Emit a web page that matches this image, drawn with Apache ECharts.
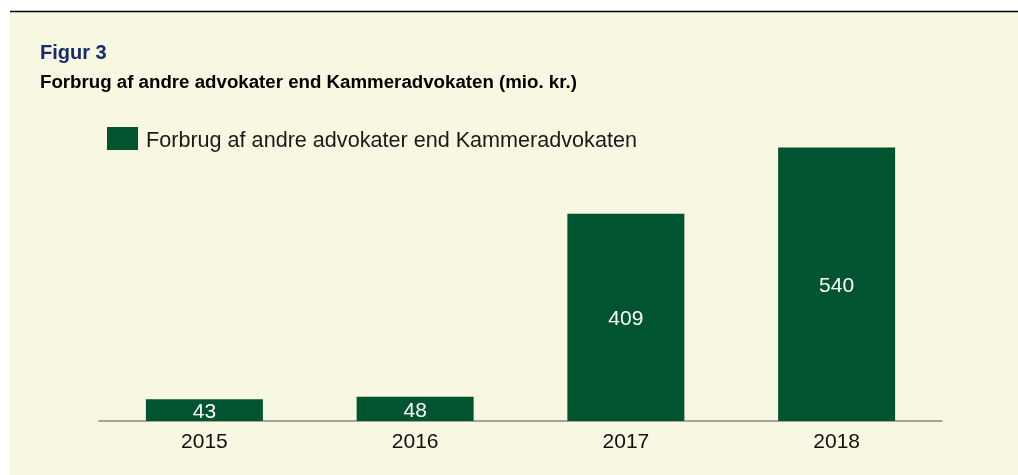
<!DOCTYPE html>
<html>
<head>
<meta charset="utf-8">
<script src="https://cdn.jsdelivr.net/npm/echarts@6/dist/echarts.min.js"></script>
<style>
html,body{margin:0;padding:0;background:#ffffff;}
#c{width:1018px;height:475px;}
</style>
</head>
<body>
<div id="c"></div>
<script>
const categories = ['2015', '2016', '2017', '2018'];
const values = [43, 48, 409, 540];
const seriesName = 'Forbrug af andre advokater end Kammeradvokaten';
const figTitle = 'Figur 3';
const subTitle = 'Forbrug af andre advokater end Kammeradvokaten (mio. kr.)';

const chart = echarts.init(document.getElementById('c'), null, {renderer: 'canvas'});
chart.setOption({
  backgroundColor: '#ffffff',
  animation: false,
  graphic: [
    {type: 'rect', z: -10, shape: {x: 10, y: 12, width: 1008, height: 463}, style: {fill: '#F8F7E1'}},
    {type: 'line', z: -9, shape: {x1: 10, y1: 11.5, x2: 1018, y2: 11.5}, style: {stroke: '#000000', lineWidth: 1.5}}
  ],
  title: [
    {text: figTitle, left: 40, top: 43, padding: 0,
     textStyle: {fontFamily: 'Liberation Sans', fontWeight: 'bold', fontSize: 20, color: '#182C6B'}},
    {text: subTitle, left: 40, top: 73, padding: 0,
     textStyle: {fontFamily: 'Liberation Sans', fontWeight: 'bold', fontSize: 18.7, color: '#000000'}}
  ],
  legend: {
    left: 107, top: 127, padding: 0,
    itemWidth: 31, itemHeight: 23,
    icon: 'rect',
    data: [seriesName],
    formatter: '{a|{name}}',
    textStyle: {
      fontFamily: 'Liberation Sans', fontSize: 21.6, color: '#1a1a1a',
      rich: {a: {fontFamily: 'Liberation Sans', fontSize: 21.6, color: '#1a1a1a', padding: [6, 0, 0, 3]}}
    }
  },
  grid: {left: 99, right: 76, top: 117, bottom: 54, containLabel: false},
  xAxis: {
    type: 'category',
    data: categories,
    axisLine: {show: true, lineStyle: {color: '#8C8C7E', width: 1.5}},
    axisTick: {show: false},
    axisLabel: {margin: 11, fontFamily: 'Liberation Sans', fontSize: 21, color: '#111111'}
  },
  yAxis: {
    type: 'value', min: 0, max: 600, show: false,
    splitLine: {show: false}
  },
  series: [{
    name: seriesName,
    type: 'bar',
    data: values,
    barWidth: 117,
    itemStyle: {color: '#005530'},
    label: {show: true, position: 'inside', offset: [0, 2], fontFamily: 'Liberation Sans', fontSize: 21, color: '#ffffff'}
  }]
});
</script>
</body>
</html>
